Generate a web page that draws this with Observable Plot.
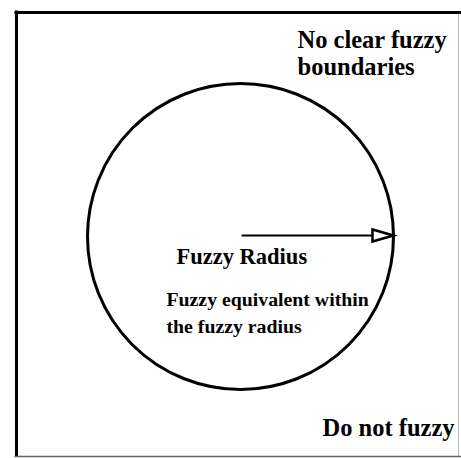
<!DOCTYPE html>
<html>
<head>
<meta charset="utf-8">
<script src="https://cdn.jsdelivr.net/npm/d3@7"></script>
<script src="https://cdn.jsdelivr.net/npm/@observablehq/plot@0.6"></script>
<style>
  html, body { margin: 0; padding: 0; background: #fff; }
  #chart svg { display: block; }
</style>
</head>
<body>
<div id="chart"></div>
<script>
// Diagram geometry (in the diagram's own units = pixel space of the figure)
const frameLeft = 16, frameTop = 12, frameRight = 458, frameBottom = 456;
const circleCenter = {x: 240, y: 236};
const circleRadius = 153;
const arrowStart = {x: 241, y: 235};
const arrowTip = {x: 393, y: 235};

const labels = ["No clear fuzzy", "boundaries", "Fuzzy Radius", "Fuzzy equivalent within", "the fuzzy radius", "Do not fuzzy"];
const labelX = [297, 297, 176, 166, 166, 322];
const labelY = [40, 67, 256, 299, 326, 428];
const labelSize = [24.5, 24.5, 22.5, 19.8, 19.8, 24.5];

const labelData = labels.map((t, i) => ({text: t, x: labelX[i], y: labelY[i], size: labelSize[i]}));

// frame edges: thick on left/top, thin on right/bottom
const verticalEdges = [{x: frameLeft, w: 3, c: "#000"}, {x: frameRight, w: 1, c: "#bbb"}];
const horizontalEdges = [{y: frameTop, w: 3, c: "#000"}, {y: frameBottom, w: 1.5, c: "#666"}];

// open triangular arrowhead with its tip at the origin, pointing right
const arrowHead = {
  draw(context) {
    context.moveTo(0, 0);
    context.lineTo(-21, -6);
    context.lineTo(-21, 6);
    context.closePath();
  }
};

const W = 461, H = 458;
const chart = Plot.plot({
  width: W,
  height: H,
  margin: 0,
  x: {domain: [0, W], axis: null},
  y: {domain: [H, 0], axis: null},
  marks: [
    Plot.ruleX(verticalEdges, {x: "x", y1: frameTop - 1.5, y2: frameBottom, stroke: "c", strokeWidth: "w"}),
    Plot.ruleY(horizontalEdges, {y: "y", x1: frameLeft - 1.5, x2: W, stroke: "c", strokeWidth: "w"}),
    Plot.dot([circleCenter], {x: "x", y: "y", r: circleRadius, stroke: "#000", strokeWidth: 3, fill: "none"}),
    Plot.link([{x1: arrowStart.x, y1: arrowStart.y, x2: arrowTip.x - 20, y2: arrowTip.y}], {x1: "x1", y1: "y1", x2: "x2", y2: "y2", stroke: "#000", strokeWidth: 2.2}),
    Plot.dot([arrowTip], {x: "x", y: "y", symbol: arrowHead, r: 5, fill: "#fff", stroke: "#000", strokeWidth: 2.5}),
    Plot.text(labelData, {x: "x", y: "y", text: "text", textAnchor: "start", lineAnchor: "middle",
      fontFamily: "Liberation Serif, Times New Roman, serif", fontWeight: "bold", fontSize: d => d.size, fill: "#000"})
  ]
});
chart.setAttribute("font-family", "Liberation Serif, serif");
document.getElementById("chart").append(chart);
</script>
</body>
</html>
